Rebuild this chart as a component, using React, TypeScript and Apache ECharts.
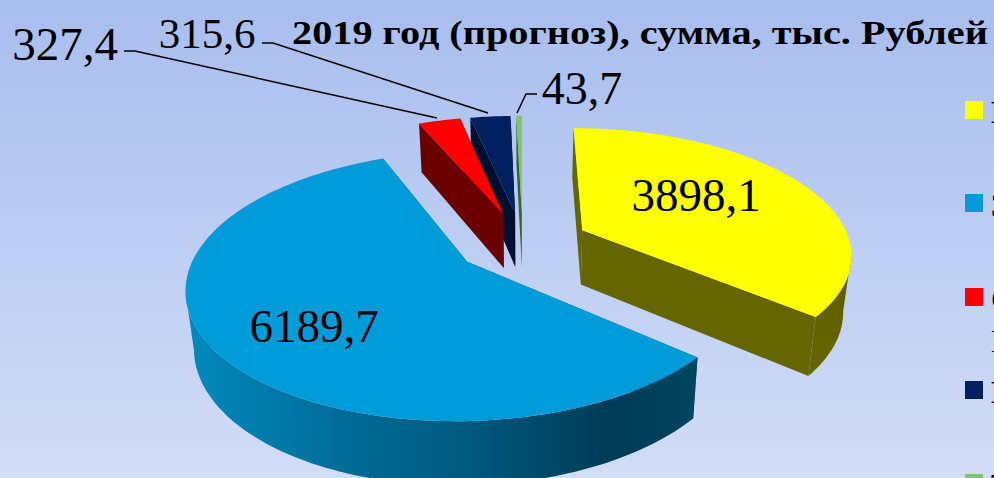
import React, { useEffect, useRef } from "react";
import * as echarts from "echarts";

const values = [3898.1, 6189.7, 327.4, 315.6, 43.7];
const topColors = ["#FFFF00", "#009BD9", "#FF0000", "#002060", "#7CC864"];
const wallColors = ["#666600", "#005F85", "#6B0000", "#000F30", "#3A6030"];
const legendInitials = ["Н", "З", "С", "И", "Т"];
const legendSecondLine = ["", "", "Н", "", ""];
const titleText = "2019 год (прогноз), сумма, тыс. Рублей";

// projection of the tilted, exploded pie
const VX = 522.6, VY = 243, FX = 268, GY = 124, PERSP = 0.175, DEPTH = 55, BOTTOM_SCALE = 0.975, EXPLODE = 0.25;
const project = (X: number, Y: number, low: boolean): number[] => {
  const w = 1 + PERSP * Y;
  let u = VX + (FX * X) / w;
  let v = VY - (GY * Y) / w;
  if (low) {
    u = VX + (u - VX) * BOTTOM_SCALE;
    v = VY + (v - VY) * BOTTOM_SCALE + DEPTH / w;
  }
  return [u, v];
};

const total = values.reduce((a, b) => a + b, 0);
const starts: number[] = [];
values.reduce((acc, v, i) => {
  starts[i] = (acc / total) * Math.PI * 2;
  return acc + v;
}, 0);

const labelPos = [
  { x: 696, y: 195, size: 47 },
  { x: 314, y: 326, size: 47 },
  { x: 65, y: 44, size: 47 },
  { x: 207, y: 33, size: 43 },
  { x: 582, y: 88, size: 46 },
];
const leaders: (number[][] | null)[] = [
  null,
  null,
  [[124, 51], [135, 51], [437, 118]],
  [[262, 43], [273, 43], [488, 113]],
  [[537, 94], [526, 94], [517, 113]],
];
const paintOrder = [1, 1, 4, 3, 2];

const formatValue = (v: number) => v.toFixed(1).replace(".", ",");

const renderSlice = (params: any) => {
  const i = params.dataIndex;
  const a0 = starts[i];
  const a1 = a0 + (values[i] / total) * Math.PI * 2;
  const mid = (a0 + a1) / 2;
  const ax = EXPLODE * Math.sin(mid);
  const ay = EXPLODE * Math.cos(mid);
  const steps = Math.max(4, Math.ceil((a1 - a0) * 40));
  const arc: number[][] = [];
  for (let s = 0; s <= steps; s++) {
    const t = a0 + ((a1 - a0) * s) / steps;
    arc.push([ax + Math.sin(t), ay + Math.cos(t)]);
  }
  const topArc = arc.map((p) => project(p[0], p[1], false));
  const lowArc = arc.map((p) => project(p[0], p[1], true));
  const apexTop = project(ax, ay, false);
  const apexLow = project(ax, ay, true);
  const children: any[] = [];
  const z = paintOrder[i];
  const poly = (points: number[][], fill: any, z2: number) => ({
    type: "polygon",
    z2,
    shape: { points },
    style: { fill, stroke: null },
  });
  // cut walls
  children.push(poly([apexTop, topArc[0], lowArc[0], apexLow], wallColors[i], z * 10));
  children.push(poly([apexTop, topArc[steps], lowArc[steps], apexLow], wallColors[i], z * 10));
  // outer wall: only the part of the rim that faces the viewer
  let first = -1;
  let last = -1;
  for (let s = 0; s < steps; s++) {
    if (topArc[s + 1][0] < topArc[s][0]) {
      if (first < 0) first = s;
      last = s + 1;
    }
  }
  if (first >= 0) {
    let arcFill: any = wallColors[i];
    if (i === 1) {
      arcFill = new echarts.graphic.LinearGradient(1, 0, 0, 0, [
        { offset: 0, color: "#00465F" },
        { offset: 0.16, color: "#003A55" },
        { offset: 0.45, color: "#00597F" },
        { offset: 0.75, color: "#00729F" },
        { offset: 1, color: "#008ABD" },
      ]);
    } else if (i === 0) {
      arcFill = new echarts.graphic.LinearGradient(0, 1, 0, 0, [
        { offset: 0, color: "#666600" },
        { offset: 1, color: "#5C5C00" },
      ]);
    }
    const frontTop = topArc.slice(first, last + 1);
    const frontLow = lowArc.slice(first, last + 1).reverse();
    children.push(poly([...frontTop, ...frontLow], arcFill, z * 10 + 1));
  }
  // top face
  children.push(poly([apexTop, ...topArc], topColors[i], z * 10 + 2));
  const leader = leaders[i];
  if (leader) {
    children.push({
      type: "polyline",
      z2: 80,
      shape: { points: leader },
      style: { fill: null, stroke: "#000", lineWidth: 1.5 },
    });
  }
  children.push({
    type: "text",
    z2: 90,
    style: {
      text: formatValue(values[i]),
      x: labelPos[i].x,
      y: labelPos[i].y,
      fill: "#000",
      fontFamily: "Liberation Serif",
      fontSize: labelPos[i].size,
      align: "center",
      verticalAlign: "middle",
    },
  });
  return { type: "group", children };
};

const legendGraphics = () => {
  const out: any[] = [];
  const tops = [101, 194, 288, 381, 474];
  values.forEach((_, i) => {
    out.push({
      type: "rect",
      shape: { x: 965, y: tops[i], width: 18, height: 18 },
      style: { fill: topColors[i] },
    });
    out.push({
      type: "text",
      style: {
        text: legendInitials[i],
        x: 991,
        y: tops[i] - 5,
        fill: "#000",
        fontFamily: "Liberation Serif",
        fontWeight: "bold",
        fontSize: 32,
      },
    });
    if (legendSecondLine[i]) {
      out.push({
        type: "text",
        style: {
          text: legendSecondLine[i],
          x: 991,
          y: tops[i] + 37,
          fill: "#000",
          fontFamily: "Liberation Serif",
          fontSize: 32,
        },
      });
    }
  });
  out.push({
    type: "text",
    x: 292,
    y: 16,
    scaleX: 1.185,
    style: {
      text: titleText,
      x: 0,
      y: 0,
      fill: "#000",
      fontFamily: "Liberation Serif",
      fontWeight: "bold",
      fontSize: 34,
    },
  });
  return out;
};

export default function App() {
  const ref = useRef<HTMLDivElement>(null);
  useEffect(() => {
    document.body.style.margin = "0";
    const chart = echarts.init(ref.current!, null, { renderer: "svg" });
    chart.setOption({
      animation: false,
      backgroundColor: new echarts.graphic.LinearGradient(0, 0, 0, 1, [
        { offset: 0, color: "#A8BEEE" },
        { offset: 1, color: "#D2DDF6" },
      ]),
      tooltip: { show: false },
      graphic: legendGraphics(),
      series: [
        {
          type: "custom",
          coordinateSystem: "none",
          renderItem: renderSlice,
          data: values,
          silent: true,
        },
      ],
    });
    return () => chart.dispose();
  }, []);
  return <div ref={ref} style={{ width: 994, height: 478 }} />;
}
